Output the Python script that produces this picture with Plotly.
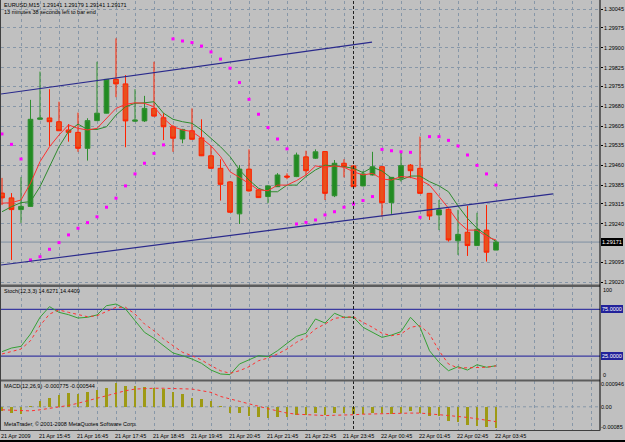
import plotly.graph_objects as go

W, H = 625, 442
FONT = "Liberation Sans, Arial, sans-serif"
FS = 5.5

# ---------------- data ----------------
bars = list(range(53))

open_ = [1.29355, 1.29337, 1.29293, 1.29305, 1.29632, 1.29637, 1.29623, 1.29592, 1.29583, 1.29523,
         1.29627, 1.29655, 1.29782, 1.29765, 1.29625, 1.29626, 1.29673, 1.29638, 1.29604, 1.29558,
         1.29589, 1.29562, 1.29495, 1.29448, 1.29397, 1.29277, 1.29445, 1.29367, 1.29342, 1.29379,
         1.29419, 1.29417, 1.29491, 1.29486, 1.29511, 1.29345, 1.29467, 1.29457, 1.29382, 1.29423,
         1.29454, 1.29319, 1.29411, 1.29460, 1.29448, 1.29354, 1.29273, 1.29294, 1.29176, 1.29208,
         1.29158, 1.29216, 1.29141]
high = [1.29412, 1.29355, 1.29415, 1.29705, 1.29811, 1.29745, 1.29698, 1.29614, 1.29657, 1.29636,
        1.29848, 1.29783, 1.29936, 1.29798, 1.29745, 1.29720, 1.29848, 1.29655, 1.29611, 1.29596,
        1.29673, 1.29632, 1.29532, 1.29482, 1.29400, 1.29460, 1.29519, 1.29370, 1.29385, 1.29430,
        1.29429, 1.29507, 1.29514, 1.29519, 1.29513, 1.29479, 1.29482, 1.29460, 1.29438, 1.29510,
        1.29457, 1.29415, 1.29510, 1.29464, 1.29567, 1.29355, 1.29329, 1.29295, 1.29292, 1.29307,
        1.29281, 1.29310, 1.29179]
low = [1.29310, 1.29104, 1.29243, 1.29303, 1.29629, 1.29532, 1.29588, 1.29548, 1.29510, 1.29477,
       1.29626, 1.29654, 1.29715, 1.29527, 1.29622, 1.29622, 1.29643, 1.29554, 1.29510, 1.29542,
       1.29556, 1.29494, 1.29447, 1.29327, 1.29282, 1.29239, 1.29361, 1.29337, 1.29317, 1.29378,
       1.29407, 1.29415, 1.29423, 1.29483, 1.29329, 1.29340, 1.29414, 1.29378, 1.29380, 1.29421,
       1.29266, 1.29277, 1.29398, 1.29411, 1.29353, 1.29254, 1.29216, 1.29173, 1.29123, 1.29119,
       1.29157, 1.29098, 1.29141]
close = [1.29337, 1.29293, 1.29305, 1.29632, 1.29637, 1.29623, 1.29589, 1.29583, 1.29523, 1.29627,
         1.29655, 1.29782, 1.29765, 1.29626, 1.29629, 1.29673, 1.29644, 1.29604, 1.29561, 1.29594,
         1.29557, 1.29495, 1.29448, 1.29388, 1.29283, 1.29445, 1.29363, 1.29338, 1.29382, 1.29423,
         1.29415, 1.29498, 1.29439, 1.29510, 1.29354, 1.29467, 1.29454, 1.29379, 1.29427, 1.29454,
         1.29319, 1.29414, 1.29458, 1.29439, 1.29354, 1.29269, 1.29292, 1.29179, 1.29200, 1.29158,
         1.29219, 1.29133, 1.29171]

ma_fast = [1.29317, 1.29319, 1.29329, 1.29392, 1.29473, 1.29529, 1.29573, 1.29611, 1.29598, 1.29592,
           1.29598, 1.29636, 1.29673, 1.29688, 1.29694, 1.29692, 1.29679, 1.29636, 1.29604, 1.29592,
           1.29586, 1.29561, 1.29532, 1.29492, 1.29435, 1.29414, 1.29389, 1.29367, 1.29364, 1.29385,
           1.29385, 1.29402, 1.29423, 1.29457, 1.29452, 1.29457, 1.29452, 1.29435, 1.29423, 1.29429,
           1.29408, 1.29404, 1.29417, 1.29414, 1.29404, 1.29385, 1.29342, 1.29298, 1.29248, 1.29216,
           1.29216, 1.29191, 1.29179]
ma_slow = [1.29285, 1.29304, 1.29319, 1.29323, 1.29379, 1.29454, 1.29529, 1.29586, 1.29614, 1.29594,
           1.29594, 1.29604, 1.29648, 1.29679, 1.29692, 1.29694, 1.29698, 1.29655, 1.29632, 1.29623,
           1.29617, 1.29592, 1.29561, 1.29529, 1.29492, 1.29442, 1.29404, 1.29373, 1.29360, 1.29360,
           1.29385, 1.29385, 1.29417, 1.29442, 1.29460, 1.29457, 1.29454, 1.29448, 1.29432, 1.29452,
           1.29438, 1.29411, 1.29404, 1.29419, 1.29419, 1.29398, 1.29382, 1.29360, 1.29307, 1.29260,
           1.29223, 1.29198, 1.29173]
sar = [1.29577, 1.29538, 1.29483, 1.29104, 1.29116, 1.29144, 1.29169, 1.29198, 1.29223, 1.29244,
       1.29266, 1.29302, 1.29336, 1.29382, 1.29427, 1.29467, 1.29504, 1.29536, 1.29934, 1.29926,
       1.29920, 1.29907, 1.29885, 1.29858, 1.29824, 1.29770, 1.29707, 1.29651, 1.29601, 1.29558,
       1.29521, 1.29239, 1.29245, 1.29254, 1.29273, 1.29285, 1.29302, 1.29314, 1.29327, 1.29342,
       1.29519, 1.29514, 1.29510, 1.29508, 1.29264, 1.29567, 1.29567, 1.29553, 1.29532, 1.29498,
       1.29459, 1.29427, 1.29385]

trend_upper_x = [-0.105, 38.95]
trend_upper_y = [1.29727, 1.29922]
trend_lower_x = [-0.105, 58.0]
trend_lower_y = [1.29085, 1.29352]
bid_price = 1.29171
separator_bar = 37

stoch_main = [29.7, 33.6, 35.4, 48.6, 66.5, 77.9, 71.8, 69.3, 65.7, 66.5, 69, 78.9, 80.7, 75.4, 62.9,
              50.4, 44, 36.1, 28.3, 25.4, 21.8, 17.2, 10, 5.8, 5.1, 16.5, 20.8, 25.4, 24.3, 30.7,
              38.6, 46.1, 49.4, 64.7, 60.4, 70.8, 66.5, 66.5, 55.8, 50.4, 45, 47.5, 51.1, 66.5,
              55.8, 30.7, 18.3, 9.3, 13.6, 10, 15.7, 13, 14.6271]
stoch_signal = [27.2, 29.7, 32.5, 41.4, 57.5, 70, 74.3, 71.8, 69.3, 67.1, 68.2, 72.9, 77.2, 77.2, 70,
                59.3, 52.1, 43.3, 36.1, 29, 25.4, 20.8, 14.7, 9.3, 6.5, 9.3, 13.6, 20, 22.9, 27.2,
                32.5, 39.7, 45, 54, 59.3, 65.4, 66.5, 67.1, 61.1, 55.8, 49.4, 46.8, 48.6, 55.8,
                57.5, 48.6, 30.7, 16.5, 12.2, 12.2, 13, 13, 14.4409]
stoch_levels = [75, 25]

macd_main = [-0.00017, -0.00023, -0.00027, 0.00002, 0.00023, 0.00034, 0.00044, 0.0005, 0.00048, 0.00054,
             0.0006, 0.00069, 0.00086, 0.00075, 0.00075, 0.00071, 0.00069, 0.00065, 0.00056, 0.00048,
             0.00032, 0.00028, 0.0002, 0.00001, -0.00021, -0.00023, -0.00033, -0.00036, -0.00041, -0.00036,
             -0.00038, -0.00029, -0.00029, -0.00021, -0.00029, -0.00023, -0.00023, -0.00026, -0.00026, -0.00021,
             -0.00023, -0.00026, -0.00023, -0.00017, -0.00023, -0.00033, -0.00033, -0.00051, -0.00057, -0.00066,
             -0.0007, -0.00074, -0.000775]
macd_signal = [-0.00011, -0.00012, -0.00013, -0.00015, -0.00011, -0.00006, -0.00001, 0.00005, 0.00013, 0.00022,
               0.00032, 0.0004, 0.0005, 0.00059, 0.00065, 0.00067, 0.00068, 0.00068, 0.00068, 0.00066,
               0.00065, 0.0006, 0.00053, 0.00038, 0.00028, 0.0002, 0.00011, 0.00001, -0.00007, -0.00015,
               -0.00023, -0.00027, -0.00029, -0.00031, -0.00032, -0.00031, -0.00031, -0.00029, -0.00027, -0.00026,
               -0.00026, -0.00023, -0.00023, -0.00023, -0.00023, -0.00027, -0.00029, -0.00032, -0.00035, -0.00039,
               -0.00044, -0.00049, -0.000544]

price_ticks = [1.30045, 1.29975, 1.29900, 1.29825, 1.29755, 1.29680, 1.29605, 1.29535,
               1.29460, 1.29385, 1.29315, 1.29240, 1.29095, 1.29020]
price_tick_text = ["1.30045", "1.29975", "1.29900", "1.29825", "1.29755", "1.29680", "1.29605", "1.29535",
                   "1.29460", "1.29385", "1.29315", "1.29240", "1.29095", "1.29020"]
time_label_bars = [0, 4, 8, 12, 16, 20, 24, 28, 32, 36, 40, 44, 48, 52]
time_labels = ["21 Apr 2009", "21 Apr 15:45", "21 Apr 16:45", "21 Apr 17:45", "21 Apr 18:45",
               "21 Apr 19:45", "21 Apr 20:45", "21 Apr 21:45", "21 Apr 22:45", "21 Apr 23:45",
               "22 Apr 00:45", "22 Apr 01:45", "22 Apr 02:45", "22 Apr 03:45"]
grid_bars = list(range(0, 63, 2))

header1 = "EURUSD,M15  1.29141 1.29179 1.29141 1.29171"
header2 = "13 minutes 38 seconds left to bar end"
stoch_title = "Stoch(12,3,3) 14.6271 14.4409"
macd_title = "MACD(12,26,9) -0.000775 -0.000544"
copyright_text = "MetaTrader, © 2001-2008 MetaQuotes Software Corp."

# ---------------- layout helpers ----------------
def py(px):
    return 1 - px / H

def pxx(px):
    return px / W

XDOM = [pxx(1), pxx(600)]
XRANGE = [-0.105, 62.947]
GRID = "#8797A8"

fig = go.Figure()

# main panel
fig.add_trace(go.Candlestick(
    x=bars, open=open_, high=high, low=low, close=close,
    increasing=dict(line=dict(color="#2F8F2F", width=1), fillcolor="#228B22"),
    decreasing=dict(line=dict(color="#FF2200", width=1), fillcolor="#E8501C"),
    whiskerwidth=0, xaxis="x", yaxis="y", showlegend=False, hoverinfo="skip"))
fig.add_trace(go.Scatter(x=bars, y=ma_slow, mode="lines", line=dict(color="#2E8B2E", width=1),
                         xaxis="x", yaxis="y", showlegend=False, hoverinfo="skip"))
fig.add_trace(go.Scatter(x=bars, y=ma_fast, mode="lines", line=dict(color="#FF3030", width=1),
                         xaxis="x", yaxis="y", showlegend=False, hoverinfo="skip"))
fig.add_trace(go.Scatter(x=bars, y=sar, mode="markers",
                         marker=dict(symbol="square", size=3, color="#FF00FF", line=dict(width=0)),
                         xaxis="x", yaxis="y", showlegend=False, hoverinfo="skip"))
for tx, ty in ((trend_upper_x, trend_upper_y), (trend_lower_x, trend_lower_y)):
    fig.add_trace(go.Scatter(x=tx, y=ty, mode="lines", line=dict(color="#2A2A8C", width=1.2),
                             xaxis="x", yaxis="y", showlegend=False, hoverinfo="skip"))

# stochastic panel
fig.add_trace(go.Scatter(x=bars, y=stoch_main, mode="lines", line=dict(color="#35A035", width=1),
                         xaxis="x2", yaxis="y2", showlegend=False, hoverinfo="skip"))
fig.add_trace(go.Scatter(x=bars, y=stoch_signal, mode="lines", line=dict(color="#FF3030", width=1, dash="dot"),
                         xaxis="x2", yaxis="y2", showlegend=False, hoverinfo="skip"))

# MACD panel
fig.add_trace(go.Bar(x=bars, y=macd_main, width=0.22, marker=dict(color="#9E9A14", line=dict(width=0)),
                     xaxis="x3", yaxis="y3", showlegend=False, hoverinfo="skip"))
fig.add_trace(go.Scatter(x=bars, y=macd_signal, mode="lines", line=dict(color="#FF3030", width=1, dash="dot"),
                         xaxis="x3", yaxis="y3", showlegend=False, hoverinfo="skip"))

xcommon = dict(domain=XDOM, range=XRANGE, showticklabels=False, ticks="", showgrid=True,
               gridcolor=GRID, griddash="3px,3px", gridwidth=1, zeroline=False, showline=False,
               tickmode="array", tickvals=grid_bars, fixedrange=True)

fig.update_layout(
    width=W, height=H, margin=dict(l=0, r=0, t=0, b=0),
    paper_bgcolor="#C0C0C0", plot_bgcolor="#C0C0C0",
    font=dict(family=FONT, size=FS, color="black"),
    showlegend=False, bargap=0, boxgap=0.3, hovermode=False,
    xaxis=dict(anchor="y", rangeslider=dict(visible=False), **xcommon),
    xaxis2=dict(anchor="y2", **xcommon),
    xaxis3=dict(anchor="y3", **xcommon),
    yaxis=dict(domain=[py(285), py(1)], range=[1.290099, 1.300762], side="right", anchor="x",
               tickmode="array", tickvals=price_ticks, ticktext=price_tick_text,
               ticks="outside", ticklen=2, tickcolor="black", tickfont=dict(size=FS, family=FONT),
               showgrid=True, gridcolor=GRID, griddash="3px,3px", gridwidth=1,
               zeroline=False, showline=False, fixedrange=True),
    yaxis2=dict(domain=[py(379.4), py(286)], range=[0, 100], side="right", anchor="x2",
                showticklabels=False, ticks="", showgrid=False, zeroline=False, fixedrange=True),
    yaxis3=dict(domain=[py(430), py(381)], range=[-0.00085, 0.000946], side="right", anchor="x3",
                showticklabels=False, ticks="", showgrid=False, zeroline=False, fixedrange=True),
)

shapes = []
# bid line
shapes.append(dict(type="line", xref="paper", yref="y", x0=XDOM[0], x1=XDOM[1], y0=bid_price, y1=bid_price,
                   line=dict(color="#7F8FA3", width=1), layer="between"))
# stochastic levels
for lv in stoch_levels:
    shapes.append(dict(type="line", xref="paper", yref="y2", x0=XDOM[0], x1=XDOM[1], y0=lv, y1=lv,
                       line=dict(color="#3A3AA0", width=1.2), layer="between"))
# MACD zero line
shapes.append(dict(type="line", xref="paper", yref="y3", x0=XDOM[0], x1=XDOM[1], y0=0, y1=0,
                   line=dict(color=GRID, width=1, dash="3px,3px"), layer="between"))
# day separator
shapes.append(dict(type="line", xref="x", yref="paper", x0=separator_bar, x1=separator_bar,
                   y0=py(1), y1=py(430), line=dict(color="#202020", width=1, dash="3px,2px")))
# panel separators
for a, b in ((284.5, 287.0), (379.4, 381.5)):
    shapes.append(dict(type="rect", xref="paper", yref="paper", x0=0, x1=XDOM[1], y0=py(b), y1=py(a),
                       fillcolor="#5C5C5C", line=dict(width=0)))
# frame
shapes.append(dict(type="line", xref="paper", yref="paper", x0=XDOM[1], x1=XDOM[1], y0=py(0), y1=py(430.5),
                   line=dict(color="black", width=1)))
shapes.append(dict(type="line", xref="paper", yref="paper", x0=pxx(0.5), x1=pxx(0.5), y0=py(0), y1=py(430.5),
                   line=dict(color="#404040", width=1)))
shapes.append(dict(type="line", xref="paper", yref="paper", x0=0, x1=XDOM[1], y0=py(430.5), y1=py(430.5),
                   line=dict(color="#404040", width=1)))
shapes.append(dict(type="rect", xref="paper", yref="paper", x0=0, x1=1, y0=0, y1=py(440),
                   fillcolor="black", line=dict(width=0)))
fig.update_layout(shapes=shapes)

ann = []
def text(x_px, y_px, s, xanchor="left", yanchor="middle", **kw):
    d = dict(xref="paper", yref="paper", x=pxx(x_px), y=py(y_px), text=s, showarrow=False,
             xanchor=xanchor, yanchor=yanchor, borderpad=0, borderwidth=0,
             font=dict(family=FONT, size=FS, color=kw.pop("color", "black")))
    d.update(kw)
    ann.append(d)

text(4, 5, header1)
text(4, 12, header2)
text(4, 290.5, stoch_title)
text(4, 386, macd_title)
text(4, 424, copyright_text)

for b, lab in zip(time_label_bars, time_labels):
    ann.append(dict(xref="x3", yref="paper", x=b, y=py(435.5), text=lab, showarrow=False,
                    xanchor="left", yanchor="middle", xshift=-1, borderpad=0, borderwidth=0,
                    font=dict(family=FONT, size=FS, color="black")))

# current price label
ann.append(dict(xref="paper", yref="y", x=pxx(601), y=bid_price, text="1.29171", showarrow=False,
                xanchor="left", yanchor="middle", bgcolor="black", borderpad=1, borderwidth=0,
                font=dict(family=FONT, size=FS, color="white")))
# stochastic scale labels
ann.append(dict(xref="paper", yref="y2", x=pxx(602), y=100, text="100", showarrow=False,
                xanchor="left", yanchor="top", borderpad=1, borderwidth=0, font=dict(family=FONT, size=FS)))
ann.append(dict(xref="paper", yref="y2", x=pxx(602), y=0, text="0", showarrow=False,
                xanchor="left", yanchor="bottom", borderpad=1, borderwidth=0, font=dict(family=FONT, size=FS)))
for lv in stoch_levels:
    ann.append(dict(xref="paper", yref="y2", x=pxx(601), y=lv, text=f"{lv:.4f}", showarrow=False,
                    xanchor="left", yanchor="middle", bgcolor="#22229A", borderpad=1, borderwidth=0,
                    font=dict(family=FONT, size=FS, color="white")))
# MACD scale labels
ann.append(dict(xref="paper", yref="y3", x=pxx(601), y=0.000946, text="0.000946", showarrow=False,
                xanchor="left", yanchor="top", borderpad=0, borderwidth=0, font=dict(family=FONT, size=FS)))
ann.append(dict(xref="paper", yref="y3", x=pxx(601), y=0, text="0.00", showarrow=False,
                xanchor="left", yanchor="middle", borderpad=0, borderwidth=0, font=dict(family=FONT, size=FS)))
ann.append(dict(xref="paper", yref="y3", x=pxx(601), y=-0.00085, text="-0.00085", showarrow=False,
                xanchor="left", yanchor="bottom", borderpad=0, borderwidth=0, font=dict(family=FONT, size=FS)))

fig.update_layout(annotations=ann)
fig.write_html("out.html")
